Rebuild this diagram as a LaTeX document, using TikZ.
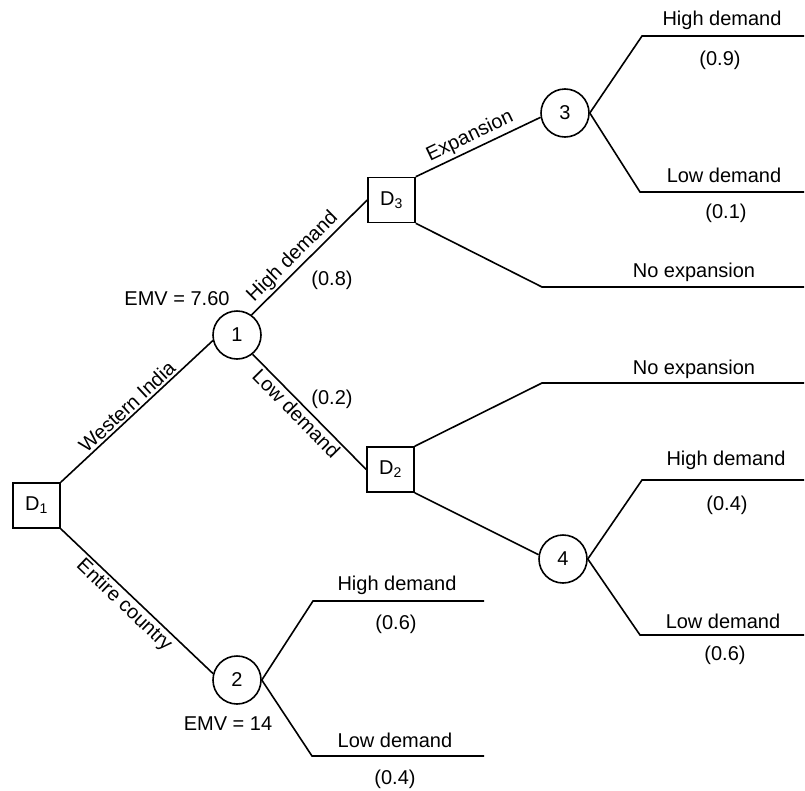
\documentclass[tikz,border=0pt]{standalone}
\usepackage{fontspec}
\setmainfont{Liberation Sans}
\begin{document}
\begin{tikzpicture}[x=1pt,y=-1pt,
  font=\fontsize{20}{24}\selectfont,
  line width=1.6pt,
  chance/.style={circle,draw,minimum size=48pt,inner sep=0pt},
  decision/.style={rectangle,draw,minimum width=47pt,minimum height=45pt,inner sep=0pt},
  lbl/.style={inner sep=0pt,anchor=base},
  br/.style={sloped,inner sep=2pt}]
\useasboundingbox (0,0) rectangle (805,790);

% nodes
\node[decision] (D1) at (36.5,505.5) {D\textsubscript{1}};
\node[chance] (n1) at (237,335) {1};
\node[chance] (n2) at (237,680) {2};
\node[decision] (D3) at (391.5,200) {D\textsubscript{3}};
\node[decision] (D2) at (390.5,469.5) {D\textsubscript{2}};
\node[chance] (n3) at (565,113) {3};
\node[chance] (n4) at (563,559) {4};

% bend and end points
\coordinate (k3h) at (642,36);   \coordinate (e3h) at (804,36);
\coordinate (k3l) at (640,192);  \coordinate (e3l) at (804,192);
\coordinate (kD3) at (542,287);  \coordinate (eD3) at (804,287);
\coordinate (kD2) at (542,383);  \coordinate (eD2) at (804,383);
\coordinate (k4h) at (642,480);  \coordinate (e4h) at (804,480);
\coordinate (k4l) at (640,635);  \coordinate (e4l) at (804,635);
\coordinate (k2h) at (313,601);  \coordinate (e2h) at (484,601);
\coordinate (k2l) at (312,756);  \coordinate (e2l) at (484,756);

% connectors
\draw (D1.north east) -- node[br,above,pos=0.48] {Western India} (n1.193);
\draw (D1.south east) -- node[br,below,pos=0.47] {Entire country} (n2.165);
\draw (n1.54) -- node[br,above,pos=0.43] {High demand} (D3.west);
\draw (n1.-51) -- node[br,below,pos=0.45] {Low demand} (D2.west);
\draw (D3.north east) -- node[br,above,inner sep=3pt,pos=0.48] {Expansion} (n3.190);
\draw (D3.south east) -- (kD3) -- (eD3);
\draw (n3.east) -- (k3h) -- (e3h);
\draw (n3.east) -- (k3l) -- (e3l);
\draw (D2.north east) -- (kD2) -- (eD2);
\draw (D2.south east) -- (n4.170);
\draw (n4.east) -- (k4h) -- (e4h);
\draw (n4.east) -- (k4l) -- (e4l);
\draw (n2.east) -- (k2h) -- (e2h);
\draw (n2.east) -- (k2l) -- (e2l);

% texts
\node[lbl] (t3h) at (722,25) {High demand};
\node[lbl] (p3h) at (720,65) {(0.9)};
\node[lbl] (t3l) at (724,182) {Low demand};
\node[lbl] (p3l) at (726,218) {(0.1)};
\node[lbl] (tD3) at (694,277) {No expansion};
\node[lbl] (tD2) at (694,374) {No expansion};
\node[lbl] (t4h) at (726,465) {High demand};
\node[lbl] (p4h) at (727,510) {(0.4)};
\node[lbl] (t4l) at (723,628) {Low demand};
\node[lbl] (p4l) at (725,660) {(0.6)};
\node[lbl] (t2h) at (397,590) {High demand};
\node[lbl] (p2h) at (396,629) {(0.6)};
\node[lbl] (t2l) at (395,747) {Low demand};
\node[lbl] (p2l) at (395,784) {(0.4)};
\node[lbl] (emv2) at (228,730) {EMV = 14};
\node[lbl] (emv1) at (177,305) {EMV = 7.60};
\node[lbl] (p1h) at (332,285) {(0.8)};
\node[lbl] (p1l) at (332,404) {(0.2)};
\end{tikzpicture}
\end{document}
